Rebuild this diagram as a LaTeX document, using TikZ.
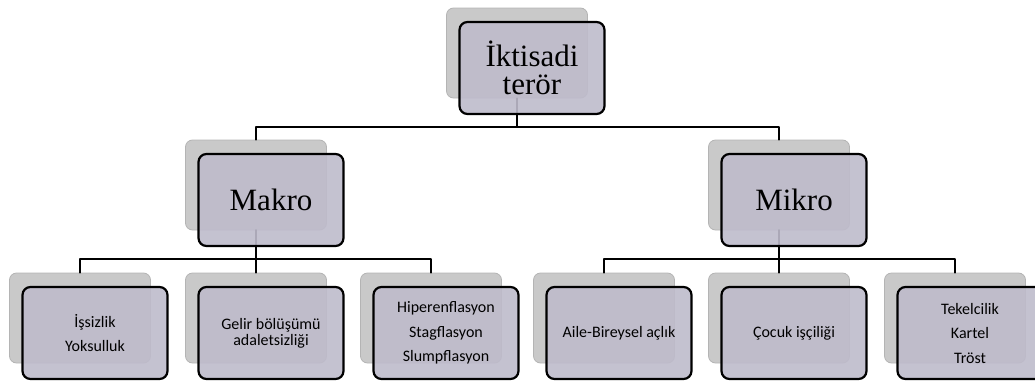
\documentclass[tikz,border=0pt]{standalone}
\usepackage{fontspec}
\setmainfont{Liberation Serif}
\newfontfamily\leaffont{Carlito}
\definecolor{backgray}{HTML}{C9C9C9}
\definecolor{backedge}{HTML}{B4B4B4}
\definecolor{frontlav}{HTML}{BEBBCB}

\begin{document}
\begin{tikzpicture}[
  x=1pt, y=-1pt,
  line join=round, line cap=round,
  backbox/.style={draw=backedge, line width=0.8pt, fill=backgray,
    rounded corners=7pt, minimum width=141pt, minimum height=90pt, inner sep=0pt},
  frontbox/.style={draw=black, line width=2.2pt, fill=frontlav,
    fill opacity=0.9, text opacity=1, rounded corners=8pt,
    minimum width=145pt, minimum height=92pt, inner sep=0pt, align=center},
  bigtxt/.style={font=\fontsize{31}{28}\selectfont},
  leaftxt/.style={font=\leaffont\fontsize{16}{16}\selectfont},
  link/.style={line width=2pt},
]
\useasboundingbox (0,0) rectangle (1035,380);

% ── the grey cards lying behind ───────────────────────────────────────────
\node[backbox] (topbg) at (517,53) {};
\node[backbox] (makrobg) at (256,185) {};
\node[backbox] (mikrobg) at (779,185) {};
\foreach \n/\x in {issiz/80, gelir/256, hiper/431, aile/604, cocuk/779, tekel/955}
  \node[backbox] (\n bg) at (\x,318) {};

% ── the connectors ────────────────────────────────────────────────────────
\coordinate (bustop) at (0,127);
\coordinate (buslow) at (0,259);

\draw[link] (topbg.south) -- (topbg.south |- bustop) -| (makrobg.north);
\draw[link] (topbg.south |- bustop) -| (mikrobg.north);
\foreach \n in {issiz, gelir, hiper}
  \draw[link] (makrobg.south) -- (makrobg.south |- buslow) -| (\n bg.north);
\foreach \n in {aile, cocuk, tekel}
  \draw[link] (mikrobg.south) -- (mikrobg.south |- buslow) -| (\n bg.north);

% ── the cards in front, with the texts ────────────────────────────────────
\node[frontbox, bigtxt] (top) at ([shift={(15,15)}]topbg) {İktisadi\\terör};
\node[frontbox, bigtxt] (makro) at ([shift={(15,15)}]makrobg) {Makro};
\node[frontbox, bigtxt] (mikro) at ([shift={(15,15)}]mikrobg) {Mikro};

\node[frontbox, leaftxt] (issiz) at ([shift={(15,15)}]issizbg) {İşsizlik\\[8.5pt]Yoksulluk};
\node[frontbox, leaftxt] (gelir) at ([shift={(15,15)}]gelirbg) {Gelir bölüşümü\\adaletsizliği};
\node[frontbox, leaftxt] (hiper) at ([shift={(15,15)}]hiperbg)
  {Hiperenflasyon\\[8.5pt]Stagflasyon\\[8.5pt]Slumpflasyon};
\node[frontbox, leaftxt] (aile) at ([shift={(15,15)}]ailebg) {Aile-Bireysel açlık};
\node[frontbox, leaftxt] (cocuk) at ([shift={(15,15)}]cocukbg) {Çocuk işçiliği};
\node[frontbox, leaftxt] (tekel) at ([shift={(15,15)}]tekelbg)
  {Tekelcilik\\[8.5pt]Kartel\\[8.5pt]Tröst};

\end{tikzpicture}
\end{document}
